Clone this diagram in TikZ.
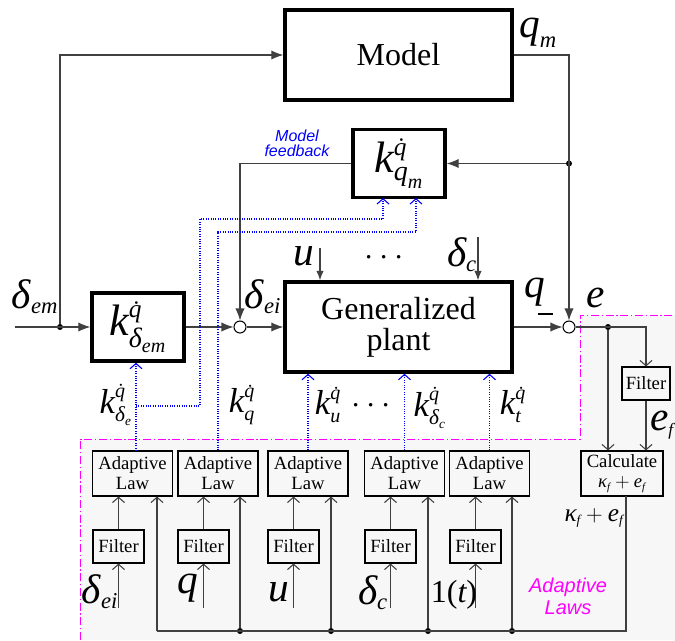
\documentclass[tikz,border=0pt]{standalone}
\usepackage{amsmath}
\usepackage{fontspec}
\setmainfont{Liberation Serif}
\newfontfamily\arialfont{Liberation Sans}
\usetikzlibrary{arrows.meta}
\definecolor{lawmag}{RGB}{255,0,255}
\definecolor{gainblue}{RGB}{0,0,255}
% italic variable in the serif text face
\newcommand\mv[1]{\text{\itshape #1}}
% italic index of a fixed size (size in pt, text)
\newcommand\ix[2]{\text{\fontsize{#1}{#1}\selectfont\itshape #2}}

\begin{document}
\begin{tikzpicture}[x=0.75pt,y=-0.75pt,
  thickbox/.style={draw, line width=2.6pt, inner sep=0pt, align=center},
  thinbox/.style={draw, line width=0.8pt, inner sep=0pt, align=center,
    font=\fontsize{14}{15}\selectfont},
  albox/.style={thinbox, minimum width=60pt, minimum height=33.75pt},
  fbox/.style={thinbox, minimum width=38.25pt, minimum height=24.75pt},
  wire/.style={draw=black!75, line width=0.8pt},
  sarrow/.style={wire, -{Latex[length=9pt,width=7pt]}},
  smallarrow/.style={wire, -{Latex[length=7pt,width=5.5pt]}},
  oarrow/.style={wire, -{Straight Barb[length=4pt,width=9pt]}},
  gain/.style={gainblue, densely dotted, line width=0.8pt, -{Straight Barb[length=4pt,width=9pt]}},
  jdot/.style={circle, fill=black, inner sep=0pt, minimum size=4.5pt},
  sumj/.style={circle, draw, fill=white, inner sep=0pt, minimum size=9pt, line width=0.8pt},
  lbl/.style={inner sep=0pt, font=\fontsize{31}{34}\selectfont},
  klbl/.style={inner sep=0pt, font=\fontsize{26}{30}\selectfont},
  kbox/.style={thickbox, minimum width=69pt, minimum height=51pt, font=\fontsize{33}{34}\selectfont},
]
\useasboundingbox (0,0) rectangle (675,640);

% adaptive-laws region
\fill[black!3] (80,640) -- (80,439) -- (580,439) -- (580,315) -- (675,315) -- (675,640) -- cycle;
\draw[lawmag, line width=0.7pt, dash pattern=on 6pt off 2pt on 1pt off 2pt]
  (80,640) -- (80,439) -- (580,439) -- (580,315) -- (675,315);

% main blocks
\node[thickbox, minimum width=170.25pt, minimum height=67.5pt,
  font=\fontsize{24}{24}\selectfont] (model) at (398.5,55) {Model};
\node[kbox] (kqm) at (399,163.5)
  {$\mv{k}^{\ix{19}{\.q}}_{\ix{21}{q}_{\ix{15}{m}}}$};
\node[kbox] (kdem) at (138,327)
  {$\mv{k}^{\ix{19}{\.q}}_{\ix{21}{δ}_{\ix{15}{em}}}$};
\node[thickbox, minimum width=170.25pt, minimum height=67.5pt,
  font=\fontsize{24}{23}\selectfont] (plant) at (398.5,327) {Generalized\\plant};

% junctions
\node[sumj] (s1) at (240,327) {};
\node[sumj] (s2) at (569,327) {};
\node[jdot] (d1) at (60,327) {};
\node[jdot] (d2) at (569,163.5) {};
\node[jdot] (d3) at (608,327) {};
\coordinate (in) at (15,327);

% error filter and calculation
\node[thinbox, minimum width=36pt, minimum height=24.75pt] (fe) at (646,383.5) {Filter};
\node[thinbox, minimum width=61.5pt, minimum height=33.75pt] (calc) at (622,473.5)
  {Calculate\\$\mv{κ}_{\ix{8}{f}}+\mv{e}_{\ix{8}{f}}$};

% adaptive laws and filters
\node[albox] (al1) at (132.5,473.5) {Adaptive\\Law};
\node[albox] (al2) at (218,473.5) {Adaptive\\Law};
\node[albox] (al3) at (308,473.5) {Adaptive\\Law};
\node[albox] (al4) at (404.5,473.5) {Adaptive\\Law};
\node[albox] (al5) at (489.5,473.5) {Adaptive\\Law};
\node[fbox] (f1) at (118.5,546.5) {Filter};
\node[fbox] (f2) at (203.5,546.5) {Filter};
\node[fbox] (f3) at (293.5,546.5) {Filter};
\node[fbox] (f4) at (390.5,546.5) {Filter};
\node[fbox] (f5) at (475.5,546.5) {Filter};

% bus of kappa_f + e_f
\coordinate (b1) at (157,631);
\node[jdot] (b2) at (240,631) {};
\node[jdot] (b3) at (331,631) {};
\node[jdot] (b4) at (428,631) {};
\node[jdot] (b5) at (512,631) {};
\coordinate (bend) at (626,631);
\coordinate (cout) at (626,496);

% filter inputs
\coordinate (i1) at (118.5,608);
\coordinate (i2) at (203.5,608);
\coordinate (i3) at (293.5,608);
\coordinate (i4) at (390.5,608);
\coordinate (i5) at (475.5,608);

% main signal flow
\draw[sarrow] (in) -- (kdem.west);
\draw[sarrow] (d1) |- (model.west);
\draw[sarrow] (kdem.east) -- (s1.west);
\draw[sarrow] (s1.east) -- (plant.west);
\draw[sarrow] (kqm.west) -| (s1.north);
\draw[sarrow] (model.east) -| (s2.north);
\draw[sarrow] (d2) -- (kqm.east);
\draw[sarrow] (plant.east) -- (s2.west);
\coordinate (uin) at (320,248);
\coordinate (dcin) at (478,237);
\draw[smallarrow] (uin) -- (uin |- plant.north);
\draw[smallarrow] (dcin) -- (dcin |- plant.north);

% error path
\draw[oarrow] (s2.east) -| (fe.north);
\draw[oarrow] (d3) -- (d3 |- calc.north);
\draw[oarrow] (fe.south) -- (fe.south |- calc.north);
\draw[wire] (cout) -- (bend) -- (b1);

% adaptive-law inputs
\foreach \k in {1,...,5} {
  \draw[oarrow] (i\k) -- (f\k.south);
  \draw[oarrow] (f\k.north) -- (f\k.north |- al\k.south);
}
\draw[oarrow] (b1) -- (b1 |- al1.south);
\foreach \k in {2,...,5} \draw[oarrow] (b\k) -- (b\k |- al\k.south);

% adapted gains
\coordinate (g1) at (136,451);
\coordinate (g1b) at (136,406);
\coordinate (g1c) at (200,219);
\coordinate (kqa) at (383,198);
\coordinate (kqb) at (416,198);
\coordinate (g2c) at (218,232);
\draw[gain] (g1) -- (g1 |- kdem.south);
\draw[gain] (g1b) -| (g1c) -| (kqa);
\draw[gain] (al2.north) -- (g2c) -| (kqb);
\draw[gain] (al3.north) -- (al3.north |- plant.south);
\draw[gain] (al4.north) -- (al4.north |- plant.south);
\draw[gain] (al5.north) -- (al5.north |- plant.south);

% signal labels
\node[lbl] (tdem) at (35,297) {$\mv{δ}_{\ix{17}{em}}$};
\node[lbl] (tdei) at (263,297) {$\mv{δ}_{\ix{17}{ei}}$};
\node[lbl] (tu) at (304,256) {$\mv{u}$};
\node[klbl] (tdots) at (387,258) {$\cdots$};
\node[lbl] (tdc) at (462,255) {$\mv{δ}_{\ix{17}{c}}$};
\node[lbl] (tqm) at (538,33) {$\mv{q}_{\ix{17}{m}}$};
\node[lbl] (tq) at (535,292) {$\mv{q}$};
\coordinate (m1) at (538,314);
\coordinate (m2) at (553,314);
\draw[line width=0.9pt] (m1) -- (m2);
\node[lbl] (te) at (596,298) {$\mv{e}$};
\node[lbl] (tef) at (662,425) {$\mv{e}_{\ix{13}{f}}$};
\node[inner sep=0pt, font=\fontsize{19}{20}\selectfont] (tke) at (594,518)
  {$\mv{κ}_{\ix{10}{f}}+\mv{e}_{\ix{10}{f}}$};

\node[klbl] (k1) at (116,405) {$\mv{k}^{\ix{15}{\.q}}_{\ix{16}{δ}_{\ix{10}{e}}}$};
\node[klbl] (k2) at (242,405) {$\mv{k}^{\ix{15}{\.q}}_{\ix{15}{q}}$};
\node[klbl] (k3) at (328,405) {$\mv{k}^{\ix{15}{\.q}}_{\ix{15}{u}}$};
\node[klbl] (k4) at (374,406) {$\cdots$};
\node[klbl] (k5) at (430,408) {$\mv{k}^{\ix{15}{\.q}}_{\ix{16}{δ}_{\ix{10}{c}}}$};
\node[klbl] (k6) at (513,405) {$\mv{k}^{\ix{15}{\.q}}_{\ix{15}{t}}$};

\node[lbl] (tdei2) at (100,592) {$\mv{δ}_{\ix{17}{ei}}$};
\node[lbl] (tq2) at (188,588) {$\mv{q}$};
\node[lbl] (tu2) at (279,592) {$\mv{u}$};
\node[lbl] (tdc2) at (373,593) {$\mv{δ}_{\ix{17}{c}}$};
\node[inner sep=0pt, font=\fontsize{24}{26}\selectfont] (tone) at (454,595) {1(\mv{t})};

\node[gainblue, align=center, inner sep=0pt, font=\arialfont\itshape\fontsize{12}{11.5}\selectfont]
  (mf) at (297,143) {Model\\feedback};
\node[lawmag, align=center, inner sep=0pt, font=\arialfont\itshape\fontsize{15}{16.5}\selectfont]
  (adl) at (568,596) {Adaptive\\Laws};
\end{tikzpicture}
\end{document}
